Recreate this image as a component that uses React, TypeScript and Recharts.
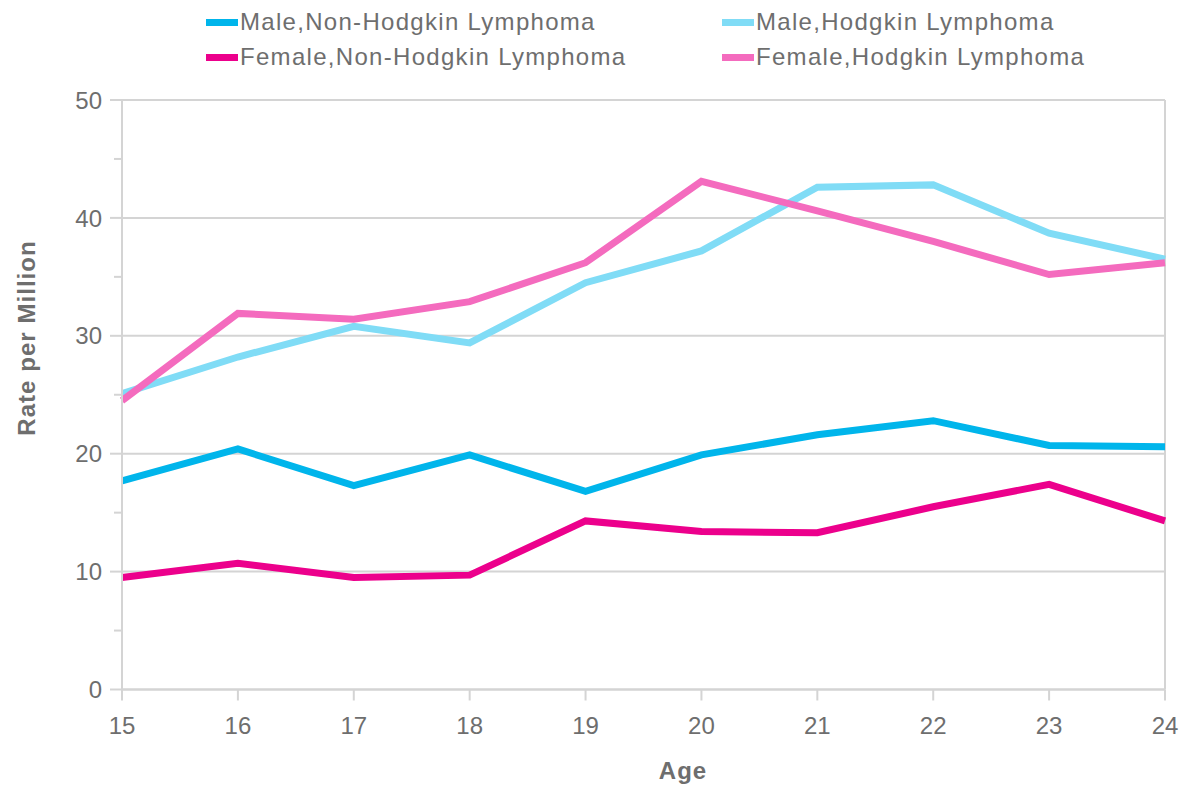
import React from 'react';
import { LineChart, Line, XAxis, YAxis, CartesianGrid, Legend, ReferenceLine } from 'recharts';

const ages = [15, 16, 17, 18, 19, 20, 21, 22, 23, 24];
const maleNHL = [17.7, 20.4, 17.3, 19.9, 16.8, 19.9, 21.6, 22.8, 20.7, 20.6];
const femaleNHL = [9.5, 10.7, 9.5, 9.7, 14.3, 13.4, 13.3, 15.5, 17.4, 14.3];
const maleHL = [25.1, 28.2, 30.8, 29.4, 34.5, 37.2, 42.6, 42.8, 38.7, 36.5];
const femaleHL = [24.5, 31.9, 31.4, 32.9, 36.2, 43.1, 40.6, 38.0, 35.2, 36.2];

const yTicks = [0, 5, 10, 15, 20, 25, 30, 35, 40, 45, 50];
const yMajor = [0, 10, 20, 30, 40, 50];

const series = [
  { key: 'maleNHL', name: 'Male,Non-Hodgkin Lymphoma', color: '#00B5EB' },
  { key: 'femaleNHL', name: 'Female,Non-Hodgkin Lymphoma', color: '#EC008C' },
  { key: 'maleHL', name: 'Male,Hodgkin Lymphoma', color: '#80DCF6' },
  { key: 'femaleHL', name: 'Female,Hodgkin Lymphoma', color: '#F46BBE' },
];

const data = ages.map((age, i) => ({
  age,
  maleNHL: maleNHL[i],
  femaleNHL: femaleNHL[i],
  maleHL: maleHL[i],
  femaleHL: femaleHL[i],
}));

const GRID = '#D4D4D4';
const TEXT = '#6E6E6E';
const FONT = '"Liberation Sans", Arial, sans-serif';

const YTick = (props: any) => {
  const { x, y, payload } = props;
  const major = payload.value % 10 === 0;
  return (
    <g>
      <line x1={x - (major ? 12 : 8)} x2={x} y1={y} y2={y} stroke={GRID} strokeWidth={2} />
      {major && (
        <text x={x - 20} y={y} dy="0.36em" textAnchor="end" fill={TEXT} fontSize={24} fontFamily={FONT}>
          {payload.value}
        </text>
      )}
    </g>
  );
};

const LegendContent = () => {
  const cols = [
    [series[0], series[1]],
    [series[2], series[3]],
  ];
  const lefts = [206, 722];
  return (
    <div style={{ position: 'relative', width: 1183, height: 80 }}>
      {cols.map((col, ci) =>
        col.map((s, ri) => (
          <div
            key={s.key}
            style={{
              position: 'absolute',
              left: lefts[ci],
              top: 22 + ri * 35 - 14,
              height: 28,
              display: 'flex',
              alignItems: 'center',
              fontFamily: FONT,
              fontSize: 24,
              letterSpacing: 1.3,
              color: TEXT,
              whiteSpace: 'nowrap',
            }}
          >
            <span style={{ display: 'inline-block', width: 32, height: 7, background: s.color, marginRight: 2 }} />
            <span>{s.name}</span>
          </div>
        ))
      )}
    </div>
  );
};

export default function App() {
  return (
    <div style={{ width: 1183, height: 786 }}>
      <style>{'body{margin:0;}'}</style>
      <LineChart width={1183} height={786} data={data} margin={{ top: 20, right: 18, bottom: 0, left: 0 }}>
        <CartesianGrid horizontal={true} vertical={false} horizontalValues={yMajor} stroke={GRID} strokeWidth={2} />
        <XAxis
          dataKey="age"
          type="number"
          domain={[15, 24]}
          ticks={ages}
          height={96.5}
          tickSize={11}
          tickMargin={16}
          stroke={GRID}
          strokeWidth={2}
          tick={{ fill: TEXT, fontSize: 24, fontFamily: FONT }}
          label={(p: any) => (
            <text x={683} y={779} textAnchor="middle" fill={TEXT} fontSize={24} fontWeight="bold" fontFamily={FONT} letterSpacing={1}>
              Age
            </text>
          )}
        />
        <YAxis
          type="number"
          domain={[0, 50]}
          ticks={yTicks}
          width={122}
          tickSize={0}
          tickMargin={0}
          tickLine={false}
          axisLine={{ stroke: GRID, strokeWidth: 2 }}
          tick={<YTick />}
          interval={0}
          label={(p: any) => (
            <text
              x={0}
              y={0}
              transform={`translate(35, 338) rotate(-90)`}
              textAnchor="middle"
              fill={TEXT}
              fontSize={24}
              fontWeight="bold"
              fontFamily={FONT}
              letterSpacing={1.05}
            >
              Rate per Million
            </text>
          )}
        />
        <ReferenceLine x={24} stroke={GRID} strokeWidth={2} />
        <Legend verticalAlign="top" wrapperStyle={{ top: 0, left: 0 }} content={<LegendContent />} />
        {series.map((s) => (
          <Line
            key={s.key}
            dataKey={s.key}
            name={s.name}
            stroke={s.color}
            strokeWidth={7}
            dot={false}
            activeDot={false}
            type="linear"
            isAnimationActive={false}
          />
        ))}
      </LineChart>
    </div>
  );
}
